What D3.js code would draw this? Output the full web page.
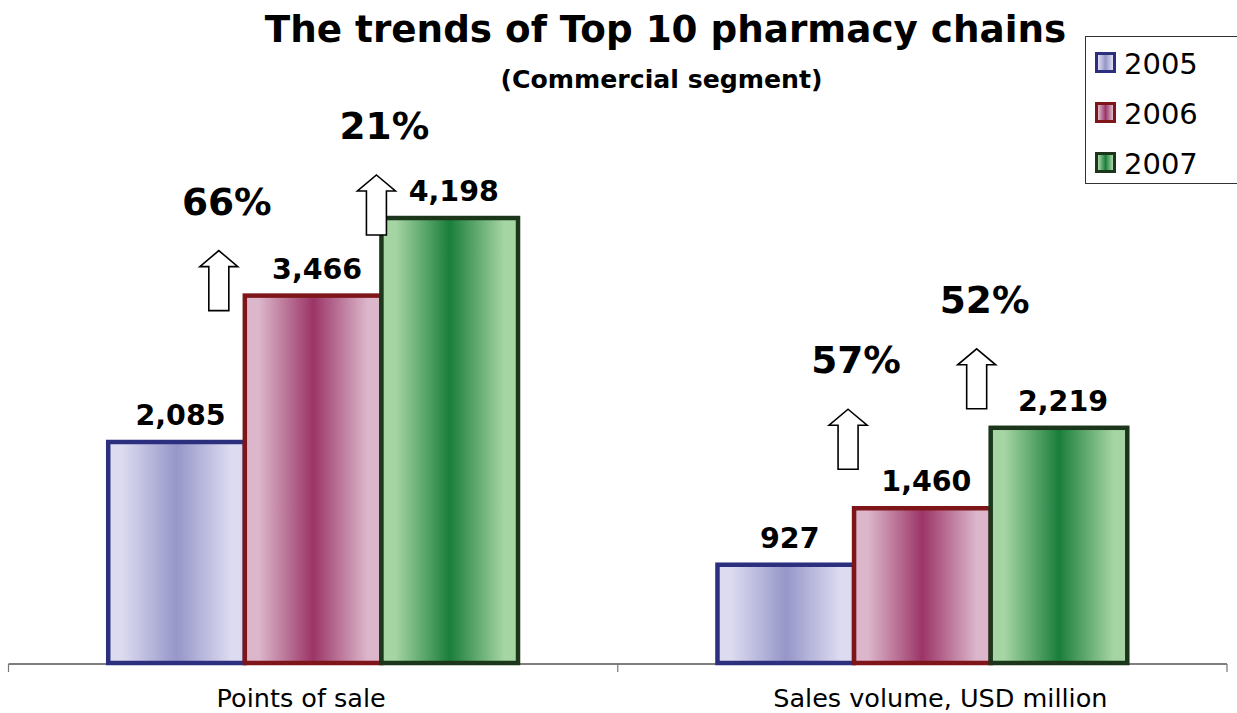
<!DOCTYPE html>
<html>
<head>
<meta charset="utf-8">
<script src="https://cdn.jsdelivr.net/npm/d3@7"></script>
<style>
  html, body { margin: 0; padding: 0; background: #fff; }
  svg { display: block; font-family: "DejaVu Sans", Verdana, sans-serif; }
</style>
</head>
<body>
<svg id="chart" width="1237" height="713"></svg>
<script>
// ---- data ----
const categories = ["Points of sale", "Sales volume, USD million"];
const years = ["2005", "2006", "2007"];
const pointsOfSale = [2085, 3466, 4198];
const salesVolume = [927, 1460, 2219];
const seriesByCategory = [pointsOfSale, salesVolume];

// ---- layout / styling ----
const W = 1237, H = 713;
const baseY = 663, topY = 133;
const palette = {
  "2005": { stroke: "#2c2e7e", edge: "#dddbf0", mid: "#9696c9" },
  "2006": { stroke: "#7e1519", edge: "#dcb7cb", mid: "#9b3567" },
  "2007": { stroke: "#1b361b", edge: "#a6d5a4", mid: "#1a7e3b" }
};
// arrow placement relative to the bar it points at (dx from bar left, dy from bar top)
const arrowOffsets = [
  { cat: 0, from: 0, dx: -26, dy: 15 },
  { cat: 0, from: 1, dx: -5, dy: 17 },
  { cat: 1, from: 0, dx: -6, dy: -39 },
  { cat: 1, from: 1, dx: -14, dy: -19 }
];
const labelShift = [-12, 18];

const svg = d3.select("#chart");
const defs = svg.append("defs");

years.forEach(y => {
  const p = palette[y];
  const g = defs.append("linearGradient")
    .attr("id", "grad" + y)
    .attr("x1", "0%").attr("x2", "100%").attr("y1", "0%").attr("y2", "0%");
  [[0, p.edge], [0.1, p.edge], [0.5, p.mid], [0.9, p.edge], [1, p.edge]]
    .forEach(([o, c]) => g.append("stop").attr("offset", o).attr("stop-color", c));
});

// ---- scales ----
const x0 = d3.scaleBand().domain(categories).range([8.5, 1227]).paddingInner(0).paddingOuter(0);
const x1 = d3.scaleBand().domain(years).range([0, x0.bandwidth()]).paddingInner(0).paddingOuter(0.73);
const y = d3.scaleLinear().domain([0, 5000]).range([baseY, topY]);

// ---- axis ----
const axisG = svg.append("g").attr("transform", `translate(0,${baseY + 1})`);
axisG.append("line")
  .attr("x1", x0.range()[0]).attr("x2", x0.range()[1])
  .attr("y1", 0).attr("y2", 0)
  .attr("stroke", "#000").attr("stroke-width", 1.2);
const boundaries = categories.map(c => x0(c)).concat([x0.range()[1]]);
axisG.selectAll("line.tick").data(boundaries).join("line")
  .attr("class", "tick")
  .attr("x1", d => d).attr("x2", d => d)
  .attr("y1", 0).attr("y2", 8)
  .attr("stroke", "#777").attr("stroke-width", 1.2);

const labelAxis = d3.axisBottom(x0).tickSize(0).tickPadding(0);
const lab = svg.append("g").attr("transform", `translate(0,${baseY})`).call(labelAxis);
lab.select(".domain").remove();
lab.selectAll(".tick text")
  .attr("font-family", "DejaVu Sans, Verdana, sans-serif")
  .attr("font-size", 25.5)
  .attr("fill", "#000")
  .attr("dy", null)
  .attr("y", 44)
  .attr("dx", (d, i) => labelShift[i]);

// ---- bars ----
const groups = svg.append("g").selectAll("g.cat")
  .data(categories).join("g")
  .attr("class", "cat")
  .attr("transform", d => `translate(${x0(d)},0)`);

groups.selectAll("rect")
  .data((c, ci) => years.map((yr, i) => ({ yr, v: seriesByCategory[ci][i] })))
  .join("rect")
  .attr("x", d => x1(d.yr))
  .attr("width", x1.bandwidth())
  .attr("y", d => y(d.v))
  .attr("height", d => baseY - y(d.v))
  .attr("fill", d => `url(#grad${d.yr})`)
  .attr("stroke", d => palette[d.yr].stroke)
  .attr("stroke-width", 4.5);

// value labels
const fmt = d3.format(",");
groups.selectAll("text.val")
  .data((c, ci) => years.map((yr, i) => ({ yr, v: seriesByCategory[ci][i] })))
  .join("text")
  .attr("class", "val")
  .attr("x", d => x1(d.yr) + x1.bandwidth() / 2 + 4)
  .attr("y", d => y(d.v) - 17)
  .attr("text-anchor", "middle")
  .attr("font-size", 28.5)
  .attr("font-weight", "bold")
  .attr("fill", "#000")
  .text(d => fmt(d.v));

// ---- growth arrows and percentages ----
const pct = d3.format(".0%");
const arrowPath = "M0,0 L19,16 L10,16 L10,60 L-10,60 L-10,16 L-19,16 Z";
arrowOffsets.forEach(a => {
  const vals = seriesByCategory[a.cat];
  const prev = vals[a.from], next = vals[a.from + 1];
  const target = years[a.from + 1];
  const bx = x0(categories[a.cat]) + x1(target);
  const tipX = bx + a.dx;
  const tipY = y(next) + a.dy - 60;
  svg.append("path")
    .attr("d", arrowPath)
    .attr("transform", `translate(${tipX},${tipY})`)
    .attr("fill", "#fff")
    .attr("stroke", "#000")
    .attr("stroke-width", 1.6)
    .attr("stroke-linejoin", "miter");
  svg.append("text")
    .attr("x", tipX + 8)
    .attr("y", tipY - 36)
    .attr("text-anchor", "middle")
    .attr("font-size", 37.5)
    .attr("font-weight", "bold")
    .attr("fill", "#000")
    .text(pct(next / prev - 1));
});

// ---- titles ----
svg.append("text")
  .attr("x", 665.5).attr("y", 42)
  .attr("text-anchor", "middle")
  .attr("font-size", 37.3)
  .attr("font-weight", "bold")
  .attr("fill", "#000")
  .text("The trends of Top 10 pharmacy chains");
svg.append("text")
  .attr("x", 661.5).attr("y", 88)
  .attr("text-anchor", "middle")
  .attr("font-size", 25.2)
  .attr("font-weight", "bold")
  .attr("fill", "#000")
  .text("(Commercial segment)");

// ---- legend ----
const legend = svg.append("g");
legend.append("rect")
  .attr("x", 1085.5).attr("y", 36.5).attr("width", 160).attr("height", 147)
  .attr("fill", "#fff").attr("stroke", "#333").attr("stroke-width", 1);
const items = legend.selectAll("g.item").data(years).join("g")
  .attr("class", "item")
  .attr("transform", (d, i) => `translate(1095,${52 + i * 50})`);
items.append("rect")
  .attr("x", 1.5).attr("y", 1.5).attr("width", 18).attr("height", 18)
  .attr("fill", d => `url(#grad${d})`)
  .attr("stroke", d => palette[d].stroke)
  .attr("stroke-width", 3);
items.append("text")
  .attr("x", 29).attr("y", 21.5)
  .attr("font-size", 29)
  .attr("fill", "#000")
  .text(d => d);
</script>
</body>
</html>
